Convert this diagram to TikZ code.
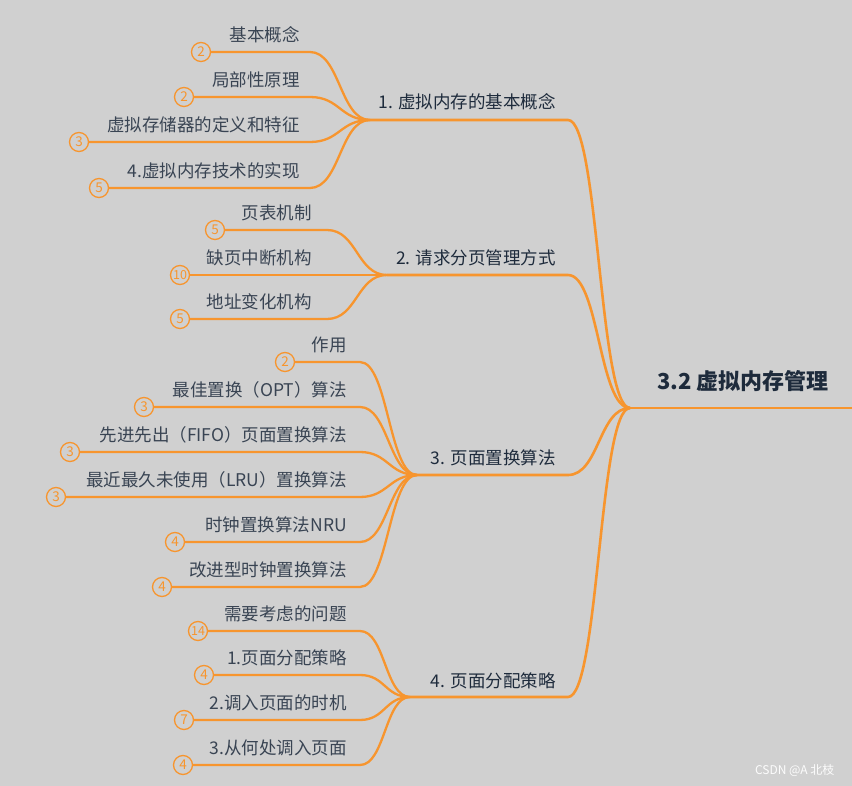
\documentclass[tikz,border=0pt]{standalone}
\usepackage{fontspec}
\setmainfont{Noto Sans CJK SC}
\usetikzlibrary{positioning}
\definecolor{mapbg}{HTML}{D0D0D0}
\definecolor{maporange}{HTML}{F7952E}
\definecolor{mapink}{HTML}{1E2B3C}
\newcommand{\badgenum}[1]{\ifnum#1>9 \fontsize{12.5}{13}\selectfont\fi#1}

\begin{document}
\begin{tikzpicture}[
    x=1pt,
    y=-1pt,
    rootlabel/.style={anchor=west,font=\fontsize{22}{25}\selectfont\bfseries,text=mapink,inner sep=0pt},
    topic/.style={anchor=east,font=\fontsize{17.5}{20}\selectfont,text=mapink,inner sep=0pt},
    subtopic/.style={anchor=east,font=\fontsize{17.5}{20}\selectfont,text=mapink!88!white,inner sep=0pt},
    badge/.style={circle,draw=maporange,text=maporange,line width=1.3pt,minimum size=19pt,inner sep=0pt,font=\fontsize{13.5}{14}\selectfont},
    mainline/.style={draw=maporange,line width=2.6pt},
    leafline/.style={draw=maporange,line width=2.3pt},
    watermark/.style={anchor=east,font=\fontsize{12}{14}\selectfont,text=white!94!mapbg}
  ]
    \fill[mapbg] (0,0) rectangle (852,786);
    \useasboundingbox (0,0) rectangle (852,786);

    \coordinate (hub) at (630,408);
    \coordinate (rootend) at (852,408);
    \node[rootlabel] (root) at (657,381) {3.2 虚拟内存管理};
    \draw[mainline] (hub) -- (rootend);

    \coordinate (c1) at (370,120);
    \coordinate (m1) at (568,120);
    \node[topic] (b1) at (556,102) {1. 虚拟内存的基本概念};
    \coordinate (c2) at (387,275);
    \coordinate (m2) at (568,275);
    \node[topic] (b2) at (556,258) {2. 请求分页管理方式};
    \coordinate (c3) at (417,475);
    \coordinate (m3) at (568,475);
    \node[topic] (b3) at (556,458) {3. 页面置换算法};
    \coordinate (c4) at (410,697);
    \coordinate (m4) at (568,697);
    \node[topic] (b4) at (556,681) {4. 页面分配策略};

    \foreach \k in {1,2,3,4} {
      \draw[mainline] (c\k) -- (m\k) .. controls +(31,0) and +(-31,0) .. (hub);
    }

    \foreach \ly/\lx/\num/\lbl [count=\i] in {52/201/2/基本概念, 97/184/2/局部性原理, 142/79/3/虚拟存储器的定义和特征, 188/99/5/4.虚拟内存技术的实现} {
      \node[badge] (n1-\i) at (\lx,\ly) {\badgenum{\num}};
      \coordinate (e1-\i) at (310,\ly);
      \node[subtopic] (t1-\i) at (300,\ly-17) {\lbl};
      \draw[leafline] (n1-\i) -- (e1-\i) .. controls +(30,0) and +(-30,0) .. (c1);
    }

    \foreach \ly/\lx/\num/\lbl [count=\i] in {230/215/5/页表机制, 275/180/10/缺页中断机构, 319/180/5/地址变化机构} {
      \node[badge] (n2-\i) at (\lx,\ly) {\badgenum{\num}};
      \coordinate (e2-\i) at (327,\ly);
      \node[subtopic] (t2-\i) at (312,\ly-17) {\lbl};
      \draw[leafline] (n2-\i) -- (e2-\i) .. controls +(30,0) and +(-30,0) .. (c2);
    }

    \foreach \ly/\lx/\num/\lbl [count=\i] in {362/285/2/作用, 407/144/3/最佳置换（OPT）算法, 452/70/3/先进先出（FIFO）页面置换算法, 497/56/3/最近最久未使用（LRU）置换算法, 542/175/4/时钟置换算法NRU, 587/162/4/改进型时钟置换算法} {
      \node[badge] (n3-\i) at (\lx,\ly) {\badgenum{\num}};
      \coordinate (e3-\i) at (360,\ly);
      \node[subtopic] (t3-\i) at (347,\ly-17) {\lbl};
      \draw[leafline] (n3-\i) -- (e3-\i) .. controls +(28,0) and +(-28,0) .. (c3);
    }

    \foreach \ly/\lx/\num/\lbl [count=\i] in {631/198/14/需要考虑的问题, 675/204/4/1.页面分配策略, 720/184/7/2.调入页面的时机, 765/183/4/3.从何处调入页面} {
      \node[badge] (n4-\i) at (\lx,\ly) {\badgenum{\num}};
      \coordinate (e4-\i) at (360,\ly);
      \node[subtopic] (t4-\i) at (347,\ly-17) {\lbl};
      \draw[leafline] (n4-\i) -- (e4-\i) .. controls +(25,0) and +(-25,0) .. (c4);
    }

    \node[watermark] (mark) at (838,770) {CSDN @A 北枝};
  \end{tikzpicture}
\end{document}
